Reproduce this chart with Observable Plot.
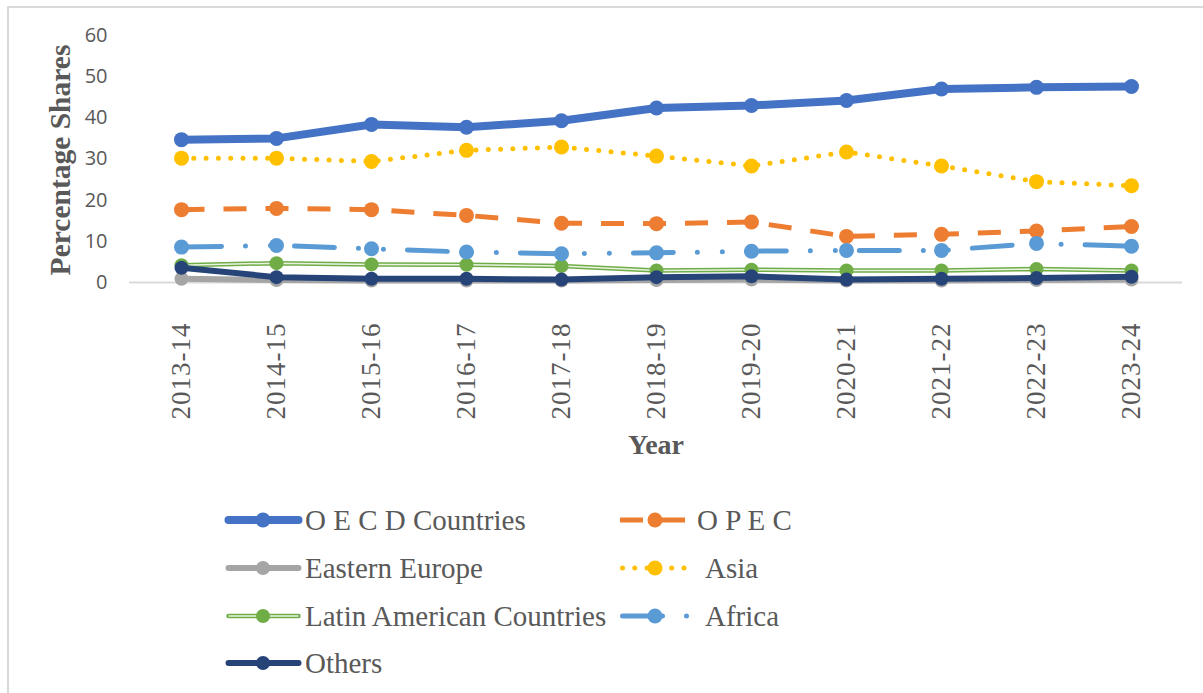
<!DOCTYPE html>
<html>
<head>
<meta charset="utf-8">
<script src="https://cdn.jsdelivr.net/npm/d3@7"></script>
<script src="https://cdn.jsdelivr.net/npm/@observablehq/plot@0.6"></script>
<style>
  body { margin: 0; background: #fff; }
  #wrap { position: relative; width: 1203px; height: 693px; overflow: hidden; background: #fff; }
  #border { position: absolute; left: 7px; top: 6px; width: 1400px; height: 900px;
            border-left: 2px solid #d9d9d9; border-top: 2px solid #d9d9d9; }
  #plot { position: absolute; left: 0; top: 0; }
  #legend { position: absolute; left: 0; top: 470px; width: 1203px; height: 223px; }
  .lg { position: absolute; height: 40px; display: flex; align-items: center; }
  .lg span { font-family: "Liberation Serif", serif; font-size: 29px; color: #595959; white-space: nowrap; }
  .lg svg { position: absolute; top: 8px; overflow: visible; }
  g[aria-label="x-axis tick label"] text { letter-spacing: 1px; }
</style>
</head>
<body>
<div id="wrap">
  <div id="border"></div>
  <div id="plot"></div>
  <div id="legend"></div>
</div>
<script>
// ---- Data ----
const years = ["2013-14","2014-15","2015-16","2016-17","2017-18","2018-19","2019-20","2020-21","2021-22","2022-23","2023-24"];
const oecd       = [34.7, 35.0, 38.4, 37.7, 39.3, 42.4, 43.0, 44.2, 47.0, 47.4, 47.6];
const opec       = [17.7, 18.0, 17.7, 16.3, 14.4, 14.3, 14.7, 11.2, 11.7, 12.5, 13.6];
const easternEurope = [0.9, 0.6, 0.5, 0.5, 0.5, 0.6, 0.7, 0.5, 0.5, 0.6, 0.7];
const asia       = [30.2, 30.2, 29.4, 32.1, 32.9, 30.7, 28.3, 31.7, 28.3, 24.5, 23.5];
const latinAmerica = [4.2, 4.7, 4.4, 4.3, 4.0, 2.9, 3.1, 2.9, 2.9, 3.3, 2.9];
const africa     = [8.6, 9.0, 8.2, 7.4, 7.0, 7.2, 7.6, 7.8, 7.8, 9.5, 8.8];
const others     = [3.6, 1.3, 0.9, 0.9, 0.7, 1.3, 1.5, 0.7, 0.9, 1.1, 1.4];
const seriesNames = ["O E C D Countries","O P E C","Eastern Europe","Asia","Latin American Countries","Africa","Others"];
const yTicks = [0, 10, 20, 30, 40, 50, 60];

// ---- Styles (separate from data) ----
const seriesValues = [oecd, opec, easternEurope, asia, latinAmerica, africa, others];
const styles = [
  {color: "#4472C4", width: 8, dash: null, cap: "round", r: 7.5},
  {color: "#ED7D31", width: 5, dash: "23 19", cap: "butt", r: 7.5},
  {color: "#A5A5A5", width: 6, dash: null, cap: "round", r: 7},
  {color: "#FFC000", width: 5, dash: "0 12.3", cap: "round", r: 7.5},
  {color: "#70AD47", width: 4.5, dash: null, cap: "round", r: 7, double: true},
  {color: "#5B9BD5", width: 5, dash: "40 24 0 25 0 24", cap: "round", r: 7.5},
  {color: "#264478", width: 6, dash: null, cap: "round", r: 7}
];

const series = seriesNames.map((name, k) => ({
  name,
  data: years.map((y, i) => ({year: y, value: seriesValues[k][i]})),
  ...styles[k]
}));

const serif = "Liberation Serif, Times New Roman, serif";

const marks = [Plot.ruleY([0], {stroke: "#d9d9d9", strokeWidth: 2})];
for (const s of series) {
  marks.push(Plot.line(s.data, {x: "year", y: "value", stroke: s.color, strokeWidth: s.width,
    strokeDasharray: s.dash, strokeLinecap: s.cap, strokeLinejoin: "round"}));
  if (s.double) {
    marks.push(Plot.line(s.data, {x: "year", y: "value", stroke: "#ffffff", strokeWidth: 1.5, strokeOpacity: 0.85}));
  }
  marks.push(Plot.dot(s.data, {x: "year", y: "value", r: s.r, fill: s.color, stroke: null}));
}
marks.push(
  Plot.axisY({ticks: yTicks, tickSize: 0, tickPadding: 22, fontSize: 20, fontFamily: "Open Sans, sans-serif", label: null}),
  Plot.axisX({tickSize: 0, tickPadding: 40, tickRotate: -90, fontSize: 27, fontFamily: serif, label: null}),
  Plot.text(["Percentage Shares"], {frameAnchor: "left", dx: -69, dy: 1, rotate: -90, textAnchor: "middle", fontSize: 29.5, fontWeight: "bold", fontFamily: serif, lineAnchor: "middle"}),
  Plot.text(["Year"], {frameAnchor: "bottom", dy: 163, textAnchor: "middle", fontSize: 28, fontWeight: "bold", fontFamily: serif, lineAnchor: "middle"})
);

const chart = Plot.plot({
  width: 1203,
  height: 470,
  marginLeft: 129,
  marginRight: 21,
  marginTop: 35,
  marginBottom: 188,
  style: {color: "#595959", background: "transparent", overflow: "visible"},
  x: {type: "point", domain: years, range: [177, 1134], padding: 0},
  y: {domain: [0, 60]},
  marks
});
document.getElementById("plot").appendChild(chart);

// ---- Legend ----
const legend = d3.select("#legend");
const legendLayout = [
  {k: 0, sx: 226, sw: 75, mx: 37, tx: 305, cy: 50},
  {k: 1, sx: 620, sw: 66, mx: 35, tx: 697, cy: 50},
  {k: 2, sx: 226, sw: 75, mx: 37, tx: 305, cy: 98},
  {k: 3, sx: 620, sw: 68, mx: 35, tx: 705, cy: 98},
  {k: 4, sx: 226, sw: 75, mx: 37, tx: 305, cy: 146},
  {k: 5, sx: 620, sw: 70, mx: 35, tx: 705, cy: 146},
  {k: 6, sx: 226, sw: 75, mx: 37, tx: 305, cy: 193}
];
for (const L of legendLayout) {
  const s = series[L.k];
  const item = legend.append("div").attr("class", "lg")
    .style("left", "0px").style("top", (L.cy - 20) + "px").style("width", "1203px");
  const svg = item.append("svg").attr("width", L.sw).attr("height", 24).style("left", L.sx + "px");
  const start = s.cap === "round" ? 2.5 : 0;
  svg.append("line").attr("x1", start).attr("x2", L.sw - start).attr("y1", 12).attr("y2", 12)
    .attr("stroke", s.color).attr("stroke-width", s.width)
    .attr("stroke-dasharray", s.dash).attr("stroke-linecap", s.cap);
  if (s.double) {
    svg.append("line").attr("x1", start).attr("x2", L.sw - start).attr("y1", 12).attr("y2", 12)
      .attr("stroke", "#fff").attr("stroke-width", 1.5).attr("stroke-opacity", 0.85);
  }
  svg.append("circle").attr("cx", L.mx).attr("cy", 12).attr("r", s.r).attr("fill", s.color);
  item.append("span").style("position", "absolute").style("left", L.tx + "px").text(s.name);
}
</script>
</body>
</html>
